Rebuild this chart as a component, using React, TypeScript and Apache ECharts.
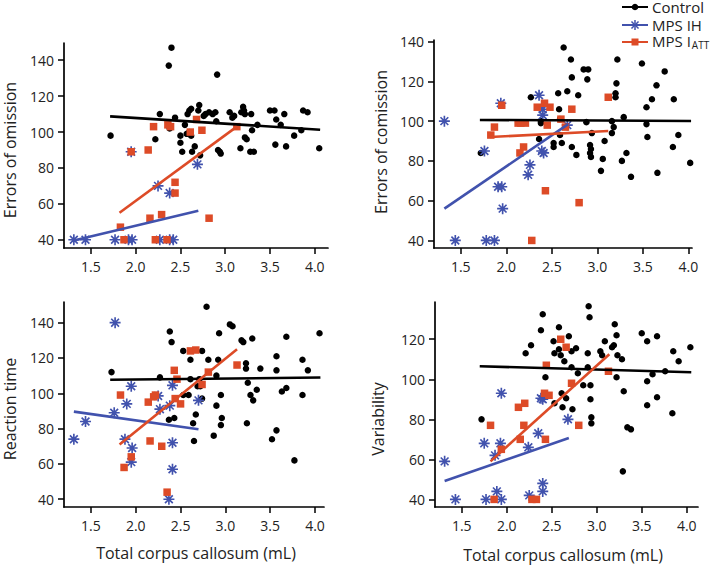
import React, { useEffect, useRef } from "react";
import * as echarts from "echarts";

// ---------- DATA ----------
const panelTitles = ["Errors of omission", "Errors of comission", "Reaction time", "Variability"];
const xTitle = "Total corpus callosum (mL)";
const legendNames = ["Control", "MPS IH", "MPS I"];
const xTicks = [1.5, 2.0, 2.5, 3.0, 3.5, 4.0];
const yTicksA = [40, 60, 80, 100, 120, 140];
const yTicksB = [40, 60, 80, 100, 120];

// Panel 1: Errors of omission
const omissionControl = [
  [1.72, 98], [2.27, 110], [2.22, 96], [2.37, 137], [2.40, 147], [2.38, 102], [2.44, 108], [2.50, 98],
  [2.50, 94], [2.52, 89], [2.57, 99], [2.58, 110], [2.60, 112], [2.62, 113], [2.63, 89], [2.66, 92],
  [2.70, 112], [2.71, 115], [2.72, 87], [2.76, 109], [2.78, 110], [2.82, 111], [2.86, 110], [2.89, 111],
  [2.90, 106], [2.91, 132], [2.92, 90], [2.94, 89], [2.95, 88], [3.05, 111], [3.08, 108], [3.10, 109],
  [3.18, 111], [3.20, 114], [3.21, 112], [3.22, 110], [3.17, 91], [3.22, 97], [3.24, 96], [3.29, 110],
  [3.28, 89], [3.32, 89], [3.30, 101], [3.36, 104], [3.50, 112], [3.55, 112], [3.57, 107], [3.56, 93],
  [3.62, 104], [3.66, 110], [3.68, 92], [3.77, 98], [3.85, 101], [3.87, 112], [3.92, 111], [4.05, 91],
  [2.60, 100], [2.55, 104], [2.68, 107], [2.62, 98]
];
const omissionIH = [
  [1.31, 40], [1.44, 40], [1.77, 40], [1.92, 40], [1.96, 40], [1.95, 89], [2.25, 70], [2.27, 40],
  [2.38, 66], [2.38, 40], [2.42, 40], [2.69, 82]
];
const omissionATT = [
  [1.83, 47], [1.87, 40], [1.95, 89], [2.14, 90], [2.20, 103], [2.16, 52], [2.22, 40], [2.29, 54],
  [2.35, 40], [2.36, 104], [2.39, 103], [2.44, 72], [2.44, 66], [2.61, 100], [2.68, 107], [2.74, 101],
  [2.82, 52], [3.13, 103]
];
const omissionFits = [[[1.715, 108.7], [4.06, 101.3]], [[1.31, 39.6], [2.70, 56.1]], [[1.82, 55], [3.13, 103]]];

// Panel 2: Errors of comission
const comissionControl = [
  [1.72, 84], [2.27, 112], [2.38, 99], [2.36, 91], [2.52, 87], [2.52, 89], [2.57, 114], [2.58, 106],
  [2.59, 93], [2.61, 89], [2.63, 137], [2.67, 115], [2.71, 131], [2.72, 122], [2.72, 87], [2.77, 83],
  [2.79, 113], [2.85, 126], [2.90, 126], [2.89, 121], [2.88, 99.5], [2.92, 88], [2.93, 86], [2.92, 84],
  [2.93, 82], [2.94, 94], [3.04, 75], [3.06, 81], [3.08, 90], [3.16, 94], [3.18, 97], [3.16, 100],
  [3.20, 112], [3.20, 114], [3.21, 119], [3.22, 131], [3.27, 80], [3.29, 102], [3.32, 84], [3.37, 72],
  [3.49, 129], [3.54, 107], [3.54, 98.5], [3.55, 92], [3.60, 111], [3.65, 118], [3.66, 74], [3.74, 125],
  [3.83, 87], [3.84, 111], [3.89, 93], [4.02, 79], [2.38, 100], [2.59, 101]
];
const comissionIH = [
  [1.32, 100], [1.44, 40], [1.76, 85], [1.78, 40], [1.87, 40], [1.94, 109], [1.91, 67], [1.95, 67],
  [1.96, 56], [2.24, 73], [2.26, 78], [2.36, 113], [2.40, 106], [2.40, 103], [2.39, 85], [2.41, 84],
  [2.67, 98]
];
const comissionATT = [
  [1.83, 93], [1.87, 97], [1.95, 108], [2.13, 99], [2.16, 99], [2.21, 99], [2.15, 84], [2.19, 87],
  [2.28, 40], [2.34, 107], [2.42, 109], [2.48, 107], [2.45, 98], [2.43, 65], [2.60, 101], [2.65, 97],
  [2.72, 106], [2.80, 59], [3.12, 112]
];
const comissionFits = [[[1.71, 100.6], [4.03, 100.1]], [[1.32, 56], [2.68, 98.5]], [[1.82, 92], [3.12, 95]]];

// Panel 3: Reaction time
const reactionControl = [
  [1.73, 112], [2.27, 109], [2.38, 135], [2.40, 129], [2.37, 85], [2.43, 86], [2.53, 124], [2.53, 99],
  [2.59, 99], [2.61, 119], [2.61, 108], [2.64, 83], [2.65, 73], [2.67, 88], [2.69, 104], [2.74, 124],
  [2.74, 97], [2.79, 149], [2.81, 119], [2.87, 76], [2.90, 93], [2.90, 110], [2.92, 119], [2.93, 134],
  [2.95, 99], [2.96, 86], [2.95, 82], [3.05, 139], [3.08, 138], [3.18, 130], [3.20, 129], [3.23, 117],
  [3.23, 114], [3.24, 83], [3.25, 106], [3.28, 99], [3.30, 131], [3.31, 96], [3.35, 102], [3.39, 114],
  [3.52, 74], [3.57, 121], [3.57, 113], [3.57, 79], [3.63, 101], [3.68, 103], [3.68, 132], [3.77, 62],
  [3.86, 119], [3.86, 99], [3.92, 113], [4.05, 134], [2.71, 108], [2.72, 104]
];
const reactionIH = [
  [1.31, 74], [1.44, 84], [1.77, 140], [1.76, 89], [1.88, 74], [1.90, 94], [1.95, 104], [1.96, 69],
  [1.95, 61], [2.25, 98.5], [2.27, 91], [2.38, 93], [2.41, 104.5], [2.41, 72], [2.41, 57], [2.37, 40],
  [2.70, 96]
];
const reactionATT = [
  [1.83, 99], [1.87, 58], [1.95, 64], [2.14, 95], [2.16, 73], [2.20, 98], [2.22, 99], [2.29, 70],
  [2.35, 44], [2.43, 113], [2.46, 108], [2.44, 97], [2.50, 94], [2.61, 124], [2.67, 124.5], [2.74, 105],
  [2.81, 112], [3.13, 116]
];
const reactionFits = [[[1.715, 107.7], [4.06, 108.9]], [[1.31, 89.6], [2.70, 79.6]], [[1.82, 71], [3.13, 125]]];

// Panel 4: Variability
const variabilityControl = [
  [1.72, 80], [2.21, 113], [2.27, 117], [2.38, 124.5], [2.40, 132.5], [2.43, 101], [2.52, 119], [2.53, 113],
  [2.53, 88], [2.58, 126], [2.58, 115], [2.60, 112], [2.61, 93], [2.62, 86], [2.64, 109], [2.66, 90.5],
  [2.69, 121.5], [2.72, 114], [2.72, 106], [2.73, 85], [2.77, 115.5], [2.79, 103], [2.85, 97], [2.90, 113],
  [2.90, 106], [2.91, 136.5], [2.92, 131], [2.93, 97], [2.93, 90], [2.94, 81], [2.94, 78], [3.04, 114],
  [3.06, 112], [3.09, 119], [3.17, 116], [3.19, 117], [3.20, 127.5], [3.22, 122], [3.23, 112], [3.22, 101],
  [3.28, 110], [3.30, 94], [3.29, 54], [3.34, 76], [3.38, 75], [3.50, 123], [3.56, 119], [3.56, 99],
  [3.56, 87], [3.62, 102.5], [3.67, 121.5], [3.67, 91], [3.76, 104], [3.84, 83], [3.85, 114], [3.91, 109],
  [4.04, 116]
];
const variabilityIH = [
  [1.31, 59], [1.43, 40], [1.75, 68], [1.77, 40], [1.89, 44], [1.87, 62], [1.93, 68], [1.94, 93],
  [1.94, 40], [2.24, 66], [2.25, 42], [2.35, 73], [2.38, 90.5], [2.40, 90], [2.40, 48], [2.40, 44],
  [2.68, 80]
];
const variabilityATT = [
  [1.82, 77], [1.86, 40], [1.94, 65], [2.13, 86], [2.20, 88], [2.15, 70], [2.19, 77], [2.28, 40],
  [2.33, 40], [2.42, 93], [2.47, 92], [2.44, 107], [2.43, 70], [2.60, 120], [2.66, 116], [2.72, 98],
  [2.80, 77], [3.13, 104]
];
const variabilityFits = [[[1.70, 106.5], [4.05, 103.5]], [[1.31, 49.2], [2.69, 70.7]], [[1.82, 59], [3.14, 112.5]]];

// ---------- STYLE / LAYOUT ----------
const BLACK = "#000000";
const BLUE = "#4152ad";
const RED = "#dd4b27";
const FONT = "'Open Sans', 'Noto Sans', sans-serif";

const panels = [
  { control: omissionControl, ih: omissionIH, att: omissionATT, fits: omissionFits, grid: { left: 64, top: 43, width: 264, height: 205 }, x: [1.2, 4.148], y: [35.4, 149.6], yTicks: yTicksA, title: [10, 150], xTitle: null as null | number[] },
  { control: comissionControl, ih: comissionIH, att: comissionATT, fits: comissionFits, grid: { left: 434, top: 40, width: 258, height: 208 }, x: [1.206, 4.04], y: [36.2, 140.8], yTicks: yTicksA, title: [381, 142], xTitle: null },
  { control: reactionControl, ih: reactionIH, att: reactionATT, fits: reactionFits, grid: { left: 64, top: 302, width: 260, height: 205 }, x: [1.2, 4.1], y: [35.6, 151.7], yTicks: yTicksA, title: [10, 409], xTitle: [196, 553] },
  { control: variabilityControl, ih: variabilityIH, att: variabilityATT, fits: variabilityFits, grid: { left: 435, top: 302, width: 263, height: 205 }, x: [1.203, 4.125], y: [36.2, 138.6], yTicks: yTicksB, title: [378, 419], xTitle: [563, 555] },
];

function starPath(): string {
  const w = 0.15;
  let d = "";
  for (const a of [0, 45, 90, 135]) {
    const r = (a * Math.PI) / 180;
    const c = Math.cos(r), s = Math.sin(r);
    const pts = [[-1, -w], [1, -w], [1, w], [-1, w]].map(([u, v]) => [u * c - v * s, u * s + v * c]);
    d += "M" + pts.map((p) => p[0].toFixed(3) + " " + p[1].toFixed(3)).join(" L") + " Z ";
  }
  return "path://" + d;
}
const STAR = starPath();

function buildOption() {
  const grid: any[] = [];
  const xAxis: any[] = [];
  const yAxis: any[] = [];
  const series: any[] = [];
  const graphic: any[] = [];
  const axisLineStyle = { color: "#000", width: 1.7 };
  panels.forEach((p, i) => {
    grid.push({ ...p.grid, containLabel: false });
    xAxis.push({
      type: "value", gridIndex: i, min: p.x[0], max: p.x[1],
      axisLine: { show: true, onZero: false, lineStyle: axisLineStyle },
      axisTick: { show: true, length: 6, lineStyle: { color: "#000", width: 1.5 }, customValues: xTicks },
      axisLabel: { customValues: xTicks, formatter: (v: number) => v.toFixed(1), color: "#222", fontSize: 14, fontFamily: FONT, margin: 11 },
      splitLine: { show: false },
    });
    yAxis.push({
      type: "value", gridIndex: i, min: p.y[0], max: p.y[1],
      axisLine: { show: true, onZero: false, lineStyle: axisLineStyle },
      axisTick: { show: true, length: 6, lineStyle: { color: "#000", width: 1.5 }, customValues: p.yTicks },
      axisLabel: { customValues: p.yTicks, color: "#222", fontSize: 14, fontFamily: FONT, margin: 10 },
      splitLine: { show: false },
    });
    series.push({ type: "scatter", name: legendNames[0], xAxisIndex: i, yAxisIndex: i, data: p.control, symbol: "circle", symbolSize: 6.5, itemStyle: { color: BLACK, opacity: 1 }, z: 2 });
    series.push({ type: "scatter", name: legendNames[1], xAxisIndex: i, yAxisIndex: i, data: p.ih, symbol: STAR, symbolSize: 11, itemStyle: { color: BLUE, opacity: 1 }, z: 3 });
    series.push({ type: "scatter", name: legendNames[2], xAxisIndex: i, yAxisIndex: i, data: p.att, symbol: "rect", symbolSize: 7.5, itemStyle: { color: RED, opacity: 1 }, z: 4 });
    const cols = [BLACK, BLUE, RED];
    p.fits.forEach((f, k) => {
      series.push({ type: "line", xAxisIndex: i, yAxisIndex: i, data: f, showSymbol: false, symbol: "none", lineStyle: { color: cols[k], width: 2.6 }, z: 5 });
    });
    graphic.push({
      type: "text", x: p.title[0], y: p.title[1], rotation: Math.PI / 2,
      style: { text: panelTitles[i], fill: "#222", font: `16px ${FONT}`, align: "center", verticalAlign: "middle", textAlign: "center", textVerticalAlign: "middle" },
    });
    if (p.xTitle) {
      graphic.push({
        type: "text", x: p.xTitle[0], y: p.xTitle[1],
        style: { text: xTitle, fill: "#222", font: `16px ${FONT}`, align: "center", verticalAlign: "middle", textAlign: "center", textVerticalAlign: "middle" },
      });
    }
  });

  // legend (drawn as graphics)
  const legY = [7, 25, 42];
  const legCols = [BLACK, BLUE, RED];
  legY.forEach((y, k) => {
    graphic.push({ type: "line", shape: { x1: 622, y1: y, x2: 648, y2: y }, style: { stroke: legCols[k], lineWidth: 2 } });
  });
  graphic.push({ type: "circle", shape: { cx: 635, cy: legY[0], r: 3.3 }, style: { fill: BLACK } });
  [0, 45, 90, 135].forEach((a) => {
    const r = (a * Math.PI) / 180;
    graphic.push({ type: "line", shape: { x1: 635 - 5 * Math.cos(r), y1: legY[1] - 5 * Math.sin(r), x2: 635 + 5 * Math.cos(r), y2: legY[1] + 5 * Math.sin(r) }, style: { stroke: BLUE, lineWidth: 1.5 } });
  });
  graphic.push({ type: "rect", shape: { x: 631.5, y: legY[2] - 3.5, width: 7, height: 7 }, style: { fill: RED } });
  graphic.push({ type: "text", x: 652, y: legY[0], style: { text: legendNames[0], fill: "#222", font: `15px ${FONT}`, lineHeight: 15, verticalAlign: "middle", textVerticalAlign: "middle" } });
  graphic.push({ type: "text", x: 652, y: legY[1], style: { text: legendNames[1], fill: "#222", font: `15px ${FONT}`, lineHeight: 15, verticalAlign: "middle", textVerticalAlign: "middle" } });
  graphic.push({
    type: "text", x: 652, y: legY[2] - 1,
    style: {
      text: `{m|${legendNames[2]}}{s|ATT}`, fill: "#222", verticalAlign: "middle", textVerticalAlign: "middle",
      rich: { m: { font: `15px ${FONT}`, lineHeight: 15, fill: "#222", color: "#222" }, s: { font: `10px ${FONT}`, lineHeight: 10, fill: "#222", color: "#222", padding: [7, 0, 0, 1] } },
    },
  });

  return { animation: false, backgroundColor: "#ffffff", grid, xAxis, yAxis, series, graphic };
}

export default function App() {
  const ref = useRef<HTMLDivElement>(null);
  useEffect(() => {
    if (!ref.current) return;
    const chart = echarts.init(ref.current, undefined, { renderer: "svg" });
    chart.setOption(buildOption() as any);
    return () => chart.dispose();
  }, []);
  return <div ref={ref} style={{ position: "fixed", left: 0, top: 0, width: 713, height: 565, background: "#fff" }} />;
}
